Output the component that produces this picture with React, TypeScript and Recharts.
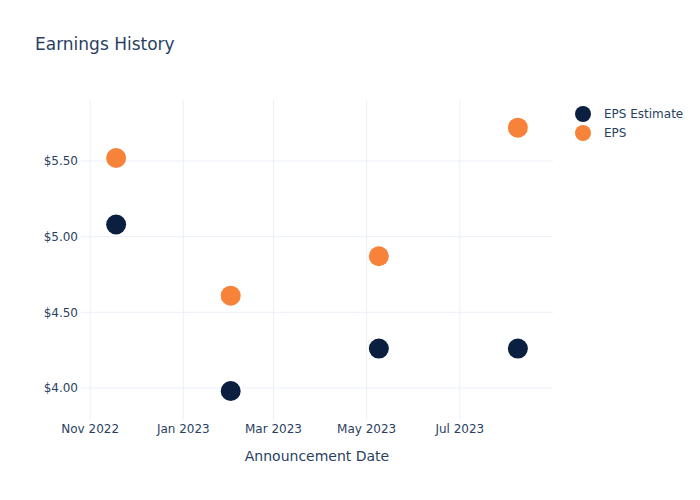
import React from 'react';
import { ScatterChart, Scatter, XAxis, YAxis, CartesianGrid } from 'recharts';

const dates = ['2022-11-18', '2023-02-01', '2023-05-09', '2023-08-08'];
const epsEstimate = [5.08, 3.98, 4.26, 4.26];
const epsActual = [5.52, 4.61, 4.87, 5.72];
const xTickDates = ['2022-11-01', '2023-01-01', '2023-03-01', '2023-05-01', '2023-07-01'];
const xDomainDates = ['2022-10-26', '2023-08-31'];
const yTicks = [4.0, 4.5, 5.0, 5.5];
const yDomain = [3.788, 5.903];
const monthNames = ['Jan', 'Feb', 'Mar', 'Apr', 'May', 'Jun', 'Jul', 'Aug', 'Sep', 'Oct', 'Nov', 'Dec'];

const seriesNames = ['EPS Estimate', 'EPS'];
const colors = ['#0b1f40', '#f7823a'];
const textColor = '#2a3f5f';
const gridColor = '#ebf0f8';
const font = '"DejaVu Sans", sans-serif';

const toTs = (s: string) => {
  const [y, m, d] = s.split('-').map(Number);
  return Date.UTC(y, m - 1, d);
};

const estimateData = dates.map((d, i) => ({ x: toTs(d), y: epsEstimate[i] }));
const actualData = dates.map((d, i) => ({ x: toTs(d), y: epsActual[i] }));
const xTicks = xTickDates.map(toTs);
const xDomain = xDomainDates.map(toTs);

const fmtDate = (v: number) => {
  const d = new Date(v);
  return `${monthNames[d.getUTCMonth()]} ${d.getUTCFullYear()}`;
};

const makeShape = (color: string) => (props: any) =>
  <circle cx={props.cx} cy={props.cy} r={10} fill={color} />;

const vGen = (p: any) => {
  const off = p.offset;
  if (p.xAxis && typeof p.xAxis.scale === 'function') {
    return xTicks.map((t) => p.xAxis.scale(t));
  }
  return xTicks.map((t) => off.left + ((t - xDomain[0]) / (xDomain[1] - xDomain[0])) * off.width);
};

const hGen = (p: any) => {
  const off = p.offset;
  if (p.yAxis && typeof p.yAxis.scale === 'function') {
    return yTicks.map((t) => p.yAxis.scale(t));
  }
  return yTicks.map((t) => off.top + ((yDomain[1] - t) / (yDomain[1] - yDomain[0])) * off.height);
};

export default function App() {
  return (
    <div style={{ position: 'absolute', left: 0, top: 0, width: 700, height: 500, background: '#fff', fontFamily: font }}>
      <div style={{ position: 'absolute', left: 35, top: 33, fontSize: 17, color: textColor, lineHeight: '22px', whiteSpace: 'nowrap' }}>
        Earnings History
      </div>
      <ScatterChart
        width={700}
        height={500}
        margin={{ top: 100, right: 147, bottom: 20, left: 0 }}
        style={{ fontFamily: font }}
      >
        <CartesianGrid
          stroke={gridColor}
          strokeWidth={1}
          verticalCoordinatesGenerator={vGen}
          horizontalCoordinatesGenerator={hGen}
        />
        <XAxis
          type="number"
          dataKey="x"
          domain={xDomain}
          ticks={xTicks}
          tickFormatter={fmtDate}
          allowDataOverflow
          axisLine={false}
          tickLine={false}
          tickSize={0}
          tickMargin={4}
          height={60}
          tick={{ fill: textColor, fontSize: 12 }}
          label={{ value: 'Announcement Date', position: 'insideBottom', offset: 19, fill: textColor, fontSize: 14 }}
        />
        <YAxis
          type="number"
          dataKey="y"
          domain={yDomain}
          ticks={yTicks}
          tickFormatter={(v: number) => `$${v.toFixed(2)}`}
          allowDataOverflow
          axisLine={false}
          tickLine={false}
          tickSize={0}
          tickMargin={3}
          width={81}
          tick={{ fill: textColor, fontSize: 12 }}
        />
        <Scatter name={seriesNames[0]} data={estimateData} fill={colors[0]} shape={makeShape(colors[0])} isAnimationActive={false} />
        <Scatter name={seriesNames[1]} data={actualData} fill={colors[1]} shape={makeShape(colors[1])} isAnimationActive={false} />
      </ScatterChart>
      <div style={{ position: 'absolute', left: 575, top: 104 }}>
        {seriesNames.map((n, i) => (
          <div key={n} style={{ display: 'flex', alignItems: 'center', height: 19 }}>
            <svg width={16} height={16} style={{ display: 'block' }}>
              <circle cx={8} cy={8} r={8} fill={colors[i]} />
            </svg>
            <span style={{ marginLeft: 13, fontSize: 12, color: textColor, whiteSpace: 'nowrap' }}>{n}</span>
          </div>
        ))}
      </div>
    </div>
  );
}
